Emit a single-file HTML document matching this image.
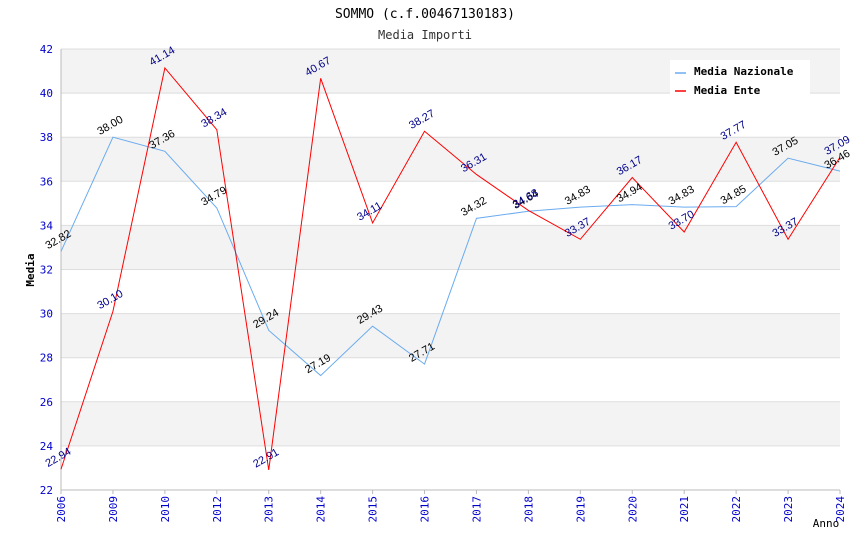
<!DOCTYPE html>
<html><head><meta charset="utf-8"><style>
body{margin:0;background:#fff;}
svg{display:block;font-family:"DejaVu Sans Mono","Liberation Mono",monospace;}
</style></head><body>
<svg id="chart" width="850" height="550">
<text x="425" y="18" text-anchor="middle" font-size="13" fill="#000">SOMMO (c.f.00467130183)</text>
<text x="425" y="39" text-anchor="middle" font-size="12" fill="#333">Media Importi</text>
<g id="grid"></g>
<g id="axes"></g>
<g id="series"></g>
<g id="labels"></g>
<text x="34" y="270" transform="rotate(-90 34 270)" text-anchor="middle" font-size="11" font-weight="bold">Media</text>
<text x="826" y="527" text-anchor="middle" font-size="11">Anno</text>
<g>
<rect x="670" y="60" width="140" height="37" fill="#fff"/>
<line x1="675" y1="73" x2="686" y2="73" stroke="#6aabf0" stroke-width="1.5"/>
<text x="694" y="75" font-size="11" font-weight="bold">Media Nazionale</text>
<line x1="675" y1="91" x2="686" y2="91" stroke="#f00" stroke-width="1.5"/>
<text x="694" y="94" font-size="11" font-weight="bold">Media Ente</text>
</g>
</svg>
<script>
const years=["2006","2009","2010","2012","2013","2014","2015","2016","2017","2018","2019","2020","2021","2022","2023","2024"];
const nazionale=[32.82,38.00,37.36,34.79,29.24,27.19,29.43,27.71,34.32,34.64,34.83,34.94,34.83,34.85,37.05,36.46];
const ente=[22.94,30.10,41.14,38.34,22.91,40.67,34.11,38.27,36.31,34.68,33.37,36.17,33.70,37.77,33.37,37.09];
const yTicks=[22,24,26,28,30,32,34,36,38,40,42];
const X0=61,X1=840,Y0=490,Y1=49,ymin=22,ymax=42;
const xs=i=>X0+i*(X1-X0)/(years.length-1);
const ys=v=>Y0-(v-ymin)/(ymax-ymin)*(Y0-Y1);
const NS="http://www.w3.org/2000/svg";
function mk(parent,tag,attrs,text){const e=document.createElementNS(NS,tag);for(const k in attrs)e.setAttribute(k,attrs[k]);if(text!==undefined)e.textContent=text;document.getElementById(parent).appendChild(e);return e;}
for(let i=0;i<yTicks.length-1;i++){
  const t=yTicks[i];
  if(i%2===1){const r=mk('grid','rect',{x:X0,y:ys(yTicks[i+1]),width:X1-X0,height:ys(t)-ys(yTicks[i+1]),fill:'#f3f3f3'});
  
  }
}
yTicks.forEach(t=>{
  const l=mk('grid','line',{x1:X0,x2:X1,y1:ys(t),y2:ys(t),stroke:'#ddd','stroke-width':1});
  
  
  const tx=mk('axes','text',{x:X0-8,y:ys(t)+4,'text-anchor':'end','font-size':11,fill:'#00c'},t);
  
  
});
mk('axes','line',{x1:X0,x2:X0,y1:Y1,y2:Y0,stroke:'#bbb'});
mk('axes','line',{x1:X0,x2:X1,y1:Y0,y2:Y0,stroke:'#bbb'});
years.forEach((y,i)=>{
  const tk=mk('axes','line',{x1:xs(i),x2:xs(i),y1:Y0,y2:Y0+4,stroke:'#bbb'});
  
  
  const tx=mk('axes','text',{x:xs(i)+4,y:Y0+6,'text-anchor':'end','font-size':11,fill:'#00c',transform:`rotate(-90 ${xs(i)+4} ${Y0+6})`},y);
  
  
});
function series(vals,color,lblColor,name){
  const p=mk('series','polyline',{points:vals.map((v,i)=>xs(i)+','+ys(v)).join(' '),fill:'none',stroke:color,'stroke-width':1});
  
  
  vals.forEach((v,i)=>{
    const x=xs(i)-13,y=ys(v)-2;
    const t=mk('labels','text',{x:x,y:y,'font-size':11,fill:lblColor,'font-family':'Liberation Sans, sans-serif',transform:`rotate(-30 ${x} ${y})`},v.toFixed(2));
    
    
  });
}
series(nazionale,'#6aabf0','#000','nazionale');
series(ente,'#f00','#00008b','ente');
</script>
</body></html>
